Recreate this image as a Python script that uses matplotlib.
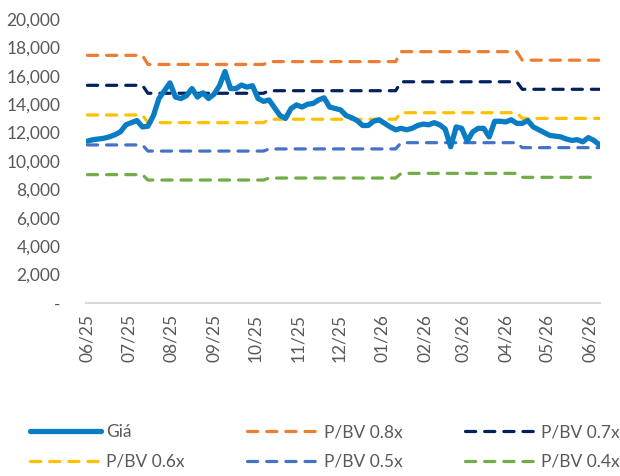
import matplotlib
matplotlib.use("Agg")
import matplotlib.pyplot as plt
import matplotlib.ticker as mticker
import numpy as np
import pandas as pd

# ---------------- data ----------------
start_date = "2025-06-01"
step_days = 4
price = [11400, 11500, 11550, 11600, 11700, 11850, 12050, 12550, 12700, 12850,
         12400, 12450, 13200, 14400, 14950, 15500, 14500, 14400, 14600, 15100,
         14500, 14800, 14400, 14700, 15300, 16300, 15100, 15100, 15350, 15200,
         15300, 14400, 14200, 14300, 13750, 13200, 13000, 13700, 13950, 13800,
         14000, 14050, 14300, 14450, 13800, 13700, 13600, 13200, 13050, 12850,
         12500, 12500, 12800, 12900, 12650, 12400, 12200, 12300, 12200, 12300,
         12500, 12600, 12550, 12700, 12550, 12250, 11000, 12400, 12300, 11400,
         12050, 12300, 12300, 11700, 12800, 12800, 12750, 12900, 12650, 12650,
         12850, 12400, 12200, 12000, 11800, 11750, 11700, 11550, 11450, 11500,
         11350, 11650, 11450, 11150]

# book-value update dates (start of each segment) and band values per segment
segment_starts = ["2025-06-01", "2025-07-12", "2025-10-11", "2026-01-12", "2026-04-10"]
band_08 = [17440, 16800, 17000, 17700, 17100]
band_07 = [15330, 14770, 14950, 15580, 15050]
band_06 = [13240, 12700, 12940, 13400, 13000]
band_05 = [11130, 10700, 10850, 11290, 10940]
band_04 = [9040, 8660, 8800, 9130, 8850]

band_names = ["P/BV 0.8x", "P/BV 0.7x", "P/BV 0.6x", "P/BV 0.5x", "P/BV 0.4x"]
band_colors = ["#ED7D31", "#002060", "#FFC000", "#4472C4", "#70AD47"]
price_name = "Giá"
price_color = "#0A7CC4"

tick_dates = ["2025-06-01", "2025-07-01", "2025-08-01", "2025-09-01", "2025-10-01",
              "2025-11-01", "2025-12-01", "2026-01-01", "2026-02-01", "2026-03-01",
              "2026-04-01", "2026-05-01", "2026-06-01"]
tick_labels = ["06/25", "07/25", "08/25", "09/25", "10/25", "11/25", "12/25",
               "01/26", "02/26", "03/26", "04/26", "05/26", "06/26"]
yticks = [0, 2000, 4000, 6000, 8000, 10000, 12000, 14000, 16000, 18000, 20000]

# ---------------- build ----------------
dates = pd.date_range(start_date, periods=len(price), freq=f"{step_days}D")
seg_idx = np.searchsorted(pd.to_datetime(segment_starts).values, dates.values, side="right") - 1
bands = [band_08, band_07, band_06, band_05, band_04]

plt.rcParams["font.family"] = ["Lato", "DejaVu Sans"]
text_color = "#595959"

fig = plt.figure(figsize=(6.2, 4.76), dpi=100)
ax = fig.add_axes([86 / 620, 1 - 303 / 476, 514 / 620, 284 / 476])

handles = {}
for name, vals, col in zip(band_names, bands, band_colors):
    series = np.array(vals)[seg_idx]
    ln, = ax.plot(dates, series, color=col, lw=2.3, dashes=(3.2, 2.8),
                  dash_capstyle="round", label=name, zorder=2)
    handles[name] = ln
ln, = ax.plot(dates, price, color=price_color, lw=3.8, solid_capstyle="round",
              solid_joinstyle="round", label=price_name, zorder=3)
handles[price_name] = ln

ax.set_ylim(0, 20000)
ax.set_xlim(pd.Timestamp("2025-05-31"), dates[-1] + pd.Timedelta(days=0.5))
ax.set_yticks(yticks)
ax.yaxis.set_major_formatter(mticker.FuncFormatter(lambda v, p: "-" if v == 0 else f"{int(v):,}"))
ax.set_xticks(pd.to_datetime(tick_dates))
ax.set_xticklabels(tick_labels, rotation=90)

for s in ["top", "right", "left"]:
    ax.spines[s].set_visible(False)
ax.spines["bottom"].set_color("#D9D9D9")
ax.spines["bottom"].set_linewidth(1.5)
ax.tick_params(axis="both", length=0, colors=text_color, labelsize=12.5)
ax.tick_params(axis="y", pad=18.5)
ax.tick_params(axis="x", pad=8)

order = [price_name, "P/BV 0.6x", "P/BV 0.8x", "P/BV 0.5x", "P/BV 0.7x", "P/BV 0.4x"]
leg = fig.legend([handles[n] for n in order], order, ncol=3, loc="center",
                 bbox_to_anchor=(325 / 620, 1 - 447 / 476), frameon=False,
                 fontsize=12.5, handlelength=4.1, handletextpad=0.3,
                 columnspacing=3.6, labelspacing=0.8, labelcolor=text_color)

fig.savefig("out.png", dpi=100)
